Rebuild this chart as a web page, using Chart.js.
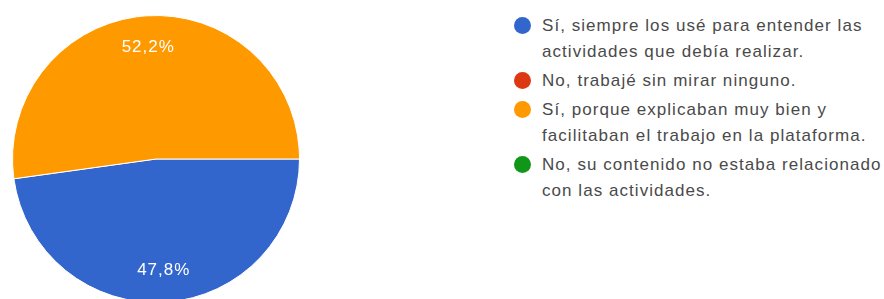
<!DOCTYPE html>
<html>
<head>
<meta charset="utf-8">
<script src="https://cdn.jsdelivr.net/npm/chart.js@4"></script>
<style>
  html, body { margin: 0; padding: 0; background: #fff; overflow: hidden; }
  body { width: 884px; height: 299px; position: relative; font-family: Arial, "Liberation Sans", sans-serif; }
  #wrap { position: absolute; left: 0; top: 0; width: 312px; height: 318px; }
  #legend { position: absolute; left: 514px; top: 13px; width: 370px; }
  .item { display: flex; align-items: flex-start; margin-bottom: 3px; }
  .dot { width: 17px; height: 17px; border-radius: 50%; flex: none; margin-top: 4px; margin-right: 11px; }
  .txt { font-size: 17px; line-height: 26px; color: #4a4a4a; letter-spacing: 1.05px; white-space: nowrap; }
</style>
</head>
<body>
<div id="wrap"><canvas id="myChart"></canvas></div>
<div id="legend"></div>
<script>
const labels = [
    "Sí, siempre los usé para entender las actividades que debía realizar.",
    "No, trabajé sin mirar ninguno.",
    "Sí, porque explicaban muy bien y facilitaban el trabajo en la plataforma.",
    "No, su contenido no estaba relacionado con las actividades."
];
const legendLines = [
    ["Sí, siempre los usé para entender las", "actividades que debía realizar."],
    ["No, trabajé sin mirar ninguno."],
    ["Sí, porque explicaban muy bien y", "facilitaban el trabajo en la plataforma."],
    ["No, su contenido no estaba relacionado", "con las actividades."]
];
const values = [47.8, 0, 52.2, 0];
const colors = ["#3366cc", "#dc3912", "#ff9900", "#109618"];

// legend
const legend = document.getElementById("legend");
for (let i = 0; i < labels.length; i++) {
    const row = document.createElement("div");
    row.className = "item";
    row.innerHTML = '<span class="dot" style="background:' + colors[i] + '"></span>' +
        '<span class="txt">' + legendLines[i].join("<br>") + '</span>';
    legend.appendChild(row);
}

const sliceLabels = {
    id: "sliceLabels",
    afterDatasetsDraw(chart) {
        const ctx = chart.ctx;
        const meta = chart.getDatasetMeta(0);
        ctx.save();
        ctx.fillStyle = "#fff";
        ctx.font = "17px Arial, 'Liberation Sans', sans-serif";
        ctx.letterSpacing = "1px";
        ctx.textAlign = "center";
        ctx.textBaseline = "middle";
        meta.data.forEach(function(arc, i) {
            if (!values[i]) return;
            const mid = (arc.startAngle + arc.endAngle) / 2;
            const r = arc.outerRadius * 0.78;
            const x = arc.x + Math.cos(mid) * r;
            const y = arc.y + Math.sin(mid) * r;
            ctx.fillText(values[i].toFixed(1).replace(".", ",") + "%", x, y);
        });
        ctx.restore();
    }
};

const ctx = document.getElementById("myChart");
new Chart(ctx, {
    type: "pie",
    data: {
        labels: labels,
        datasets: [{
            data: values,
            backgroundColor: colors,
            borderColor: "#fff",
            borderWidth: 1
        }]
    },
    options: {
        responsive: true,
        maintainAspectRatio: false,
        animation: false,
        rotation: 90,
        layout: {padding: {left: 12, right: 12, top: 15, bottom: 15}},
        plugins: {
            legend: {display: false},
            tooltip: {enabled: false}
        }
    },
    plugins: [sliceLabels]
});
</script>
</body>
</html>
